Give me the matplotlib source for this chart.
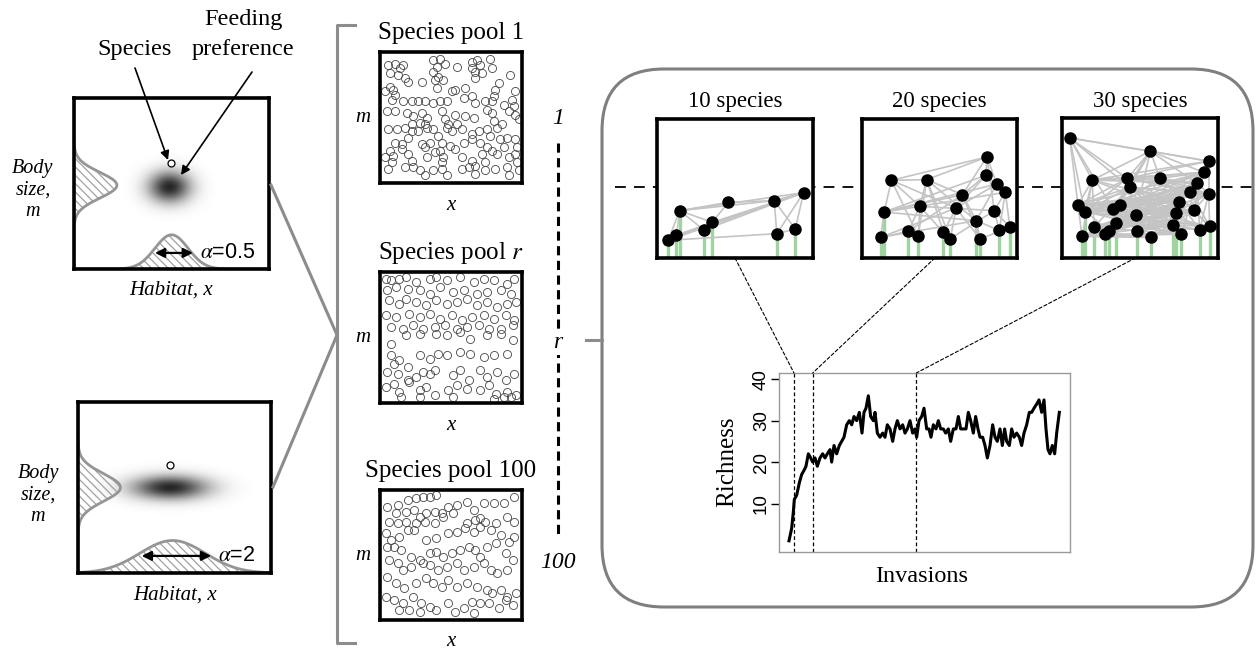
import numpy as np
import matplotlib.pyplot as plt
from matplotlib.patches import FancyBboxPatch, ConnectionPatch

plt.rcParams['font.family'] = ['Liberation Serif', 'DejaVu Serif']
plt.rcParams['mathtext.fontset'] = 'stix'
plt.rcParams['hatch.linewidth'] = 0.9

W, H = 1257, 651

# ---- niche panels (left column) ----
alpha_labels = ['0.5', '2']
blob_centre = [(0.49, 0.48), (0.477, 0.50)]
blob_sd = [(0.085, 0.072), (0.155, 0.055)]
species_dot = [(0.497, 0.62), (0.477, 0.63)]
body_mu = [0.49, 0.50]
body_sd = [0.075, 0.08]
body_peak = [0.22, 0.22]
habitat_mu = [0.50, 0.49]
habitat_sd = [0.085, 0.17]
habitat_peak = [0.20, 0.19]
alpha_arrow = [(0.415, 0.61), (0.33, 0.69)]
alpha_arrow_y = [0.094, 0.10]

# ---- species pools (read positions, in reading frame of each panel) ----
pool1_pts = [(40,50),(45,75),(60,45),(75,60),(85,50),(90,90),(70,80),(175,35),(185,55),(195,30),
             (210,45),(175,70),(180,95),(190,85),(205,95),(185,120),(245,55),(290,40),(305,35),(315,50),
             (300,70),(300,90),(290,60),(320,75),(345,30),(350,60),(405,80),(140,100),(100,100),
             (45,115),(55,125),(60,140),(50,155),(30,130),(240,125),(230,130),(270,120),(290,145),(265,150),
             (370,105),(360,125),(355,145),(350,160),(420,130),(410,155),(85,160),(110,160),(130,160),(150,160),
             (175,165),(195,160),(215,160),(300,165),(330,160),(385,170),(415,175),
             (35,190),(60,190),(95,195),(115,205),(140,195),(155,210),(150,230),(135,225),(110,230),(200,190),
             (210,215),(220,230),(240,200),(270,205),(295,210),(245,230),(335,185),(350,195),(355,220),(400,190),
             (420,200),(430,215),(380,230),(365,240),
             (40,245),(65,245),(90,240),(110,250),(130,250),(155,240),(175,245),(190,265),(215,240),(230,250),
             (260,245),(290,260),(310,250),(335,245),(345,265),(375,275),(395,270),(420,275),(60,285),(45,310),
             (80,290),(100,270),(140,290),(165,285),(200,285),(225,295),(265,285),(290,275),(315,285),(335,300),
             (350,310),(385,300),(425,300),
             (30,330),(55,325),(50,345),(80,305),(100,320),(110,340),(150,300),(155,330),(180,315),(195,310),
             (205,330),(200,345),(240,305),(260,330),(290,340),(300,355),(320,320),(330,345),(365,320),(400,330),
             (420,320),(425,345),(40,365),(90,360),(115,360),(135,370),(150,385),(175,370),(200,365),(215,385),
             (260,365),(280,360),(300,380),(330,370),(360,365),(395,360),(400,385),(430,370)]
poolr_pts = [(200,835),(215,840),(240,835),(260,830),(290,845),(330,835),(350,830),(380,840),(420,830),(460,845),
             (490,835),(520,840),(560,850),(580,835),(205,870),(230,860),(265,865),(300,870),(330,880),(360,860),
             (400,875),(430,870),(470,880),(500,875),(540,870),(570,880),(210,900),(240,910),(260,895),(290,905),
             (320,915),(350,900),(380,910),(410,905),(440,895),(470,915),(500,905),(530,920),(560,910),(585,905),
             (200,945),(230,950),(270,940),(300,950),(330,940),(360,955),(395,945),(425,960),(455,950),(490,945),
             (520,955),(555,945),(580,960),(215,980),(250,985),(280,975),(310,985),(345,980),(375,975),(410,985),
             (440,980),(475,975),(505,985),(540,985),(575,975),
             (215,1030),(260,1005),(300,1000),(350,1000),(380,1005),(420,995),(450,1015),(500,1005),(540,1000),
             (575,1020),(215,1065),(225,1090),(240,1080),(265,1100),(300,1065),(330,1075),(355,1060),(380,1065),
             (420,1055),(450,1060),(490,1070),(520,1065),(560,1060),(205,1115),(235,1120),(265,1140),(290,1130),
             (310,1115),(330,1120),(345,1110),(400,1125),(420,1110),(445,1140),(480,1110),(500,1130),(530,1115),
             (555,1140),(580,1120),(200,1160),(225,1150),(240,1175),(270,1145),(300,1170),(320,1160),(345,1185),
             (385,1170),(410,1155),(440,1165),(480,1170),(505,1155),(525,1180),(560,1175),(585,1185),(245,1190),
             (300,1190),(400,1190),(520,1195),(550,1190),(570,1190)]
pool100_pts = [(205,530),(235,525),(265,510),(290,505),(310,500),(330,500),(350,495),(230,550),(260,545),(285,540),
               (300,560),(320,550),(345,545),(365,550),(385,530),(410,525),(440,515),(460,540),(490,520),(520,520),
               (550,520),(580,500),(210,575),(235,580),(260,575),(290,580),(315,575),(345,580),(370,560),(400,550),
               (440,580),(465,570),(480,565),(495,575),(525,580),(560,560),(580,575),(200,610),(215,630),(240,620),
               (265,600),(285,600),(320,630),(350,625),(385,610),(410,605),(435,595),(460,605),(480,590),(510,600),
               (540,615),(565,635),(580,620),(205,650),(225,650),(245,660),(275,680),(300,690),(330,670),(350,665),
               (370,680),(395,670),(420,660),(445,650),(465,660),(480,680),(500,650),(525,640),(555,670),(575,690),
               (210,690),(235,700),(250,720),(275,710),(310,700),(330,705),(355,720),(380,710),(410,700),(430,720),
               (460,710),(490,700),(510,720),(530,730),(560,720),(205,740),(230,760),(255,775),(290,760),(320,745),
               (340,760),(365,770),(385,750),(410,770),(440,760),(470,770),(500,780),(515,790),(540,780),(560,800),
               (585,790),(200,800),(225,810),(250,820),(280,800),(305,820),(330,830),(350,840),(385,820),(405,845),
               (430,835),(455,815),(480,820),(505,820),(535,835),(555,810),(575,825),(300,845),(270,840),(460,850),
               (240,840)]
pool_titles = ['Species pool 1', 'Species pool $r$', 'Species pool 100']
pool_frames = [((15, 440), (408, 10)), ((183, 603), (1208, 815)), ((183, 603), (870, 480))]
pool_index_labels = ['1', 'r', '100']

# ---- food webs (node positions read in each panel's frame) ----
web_titles = ['10 species', '20 species', '30 species']
web10_nodes = [(120,378),(265,353),(402,348),(490,324),(217,413),(192,436),(110,452),(85,467),(410,447),(465,433)]
web10_edges = [(0,1),(0,2),(1,2),(2,3),(1,4),(0,4),(0,5),(0,6),(0,7),(6,4),(7,4),(4,3),(5,3),(6,3),(7,3),
               (2,8),(2,9),(3,8),(3,9),(7,8),(8,9),(0,3)]
web10_basal = [0, 4, 5, 6, 7, 8, 9]
web20_nodes = [(425,217),(140,287),(245,285),(422,272),(455,298),(480,323),(352,330),(118,382),(225,365),(333,370),
               (447,378),(393,408),(190,440),(220,455),(295,443),(316,462),(108,458),(405,463),(462,437),(494,428)]
web20_edges = [(2,1),(3,1),(2,3),(2,8),(2,9),(2,10),(3,9),(3,7),(3,12),(8,17),(8,9),(8,7),(8,4),(8,5),(9,13),
               (9,14),(9,15),(9,6),(1,4),(1,5),(1,7),(1,11),(4,5),(4,6),(4,7),(4,10),(5,6),(5,10),(5,12),(6,11),
               (6,19),(6,20),(7,10),(7,12),(7,18),(10,15),(10,16),(10,18),(11,19),(11,20),(12,18),(12,19),(17,13),
               (17,12),(17,10),(13,7),(14,3),(15,3),(16,11),(18,20),(19,20),(2,14),(3,16),(9,11),(8,12)]
web20_basal = [17, 8, 13, 14, 15, 16, 12, 18, 19, 20]
web30_nodes = [(75,158),(317,198),(492,228),(477,262),(143,285),(248,280),(346,280),(255,307),(457,295),(437,320),
               (492,326),(100,360),(120,380),(205,372),(225,360),(403,350),(273,390),(395,383),(448,375),(215,415),
               (148,428),(385,420),(495,425),(112,455),(180,448),(192,438),(277,440),(318,458),(410,448),(465,435)]
web30_links = {1: [2, 3, 5, 6, 8, 12, 13, 14], 2: [3, 4, 5, 6, 7, 8, 14, 15, 17, 9],
               3: [4, 5, 9, 6, 10, 11, 16], 4: [5, 6, 7, 9, 10, 12, 13, 14, 17, 19],
               5: [6, 12, 13, 21, 24, 16, 18, 9], 6: [7, 9, 10, 12, 13, 20, 22, 11],
               7: [9, 10, 11, 14, 15, 17, 19, 23], 8: [10, 11, 12, 13, 14, 16, 18, 21, 22],
               9: [11, 13, 14, 15, 17, 20, 24, 29, 30], 10: [11, 12, 13, 14, 17, 21, 27, 23],
               11: [12, 14, 15, 18, 19, 23, 30, 25], 12: [16, 19, 22, 24, 26], 13: [16, 18, 19, 22, 23, 29],
               14: [16, 19, 22, 28, 29], 15: [16, 18, 23, 25], 16: [20, 21, 24, 26, 27, 28, 30],
               17: [18, 19, 23, 29, 26], 18: [20, 21, 24, 25, 30], 19: [20, 21, 24, 27, 28, 23],
               20: [22, 29, 30], 21: [22, 29], 22: [24, 27, 30, 23], 24: [25, 29, 28], 25: [28, 29]}
web30_basal = [24, 13, 21, 25, 26, 20, 27, 28, 22, 18, 29, 30, 23]
web_frames = [((52, 518), (520, 103)), ((52, 515), (520, 103)), ((52, 520), (520, 98))]

# ---- richness through the invasion sequence ----
invasion = [0, 8, 13, 16, 23, 31, 38, 45, 51, 58, 65, 71, 78, 85, 93, 101, 108, 115, 123, 128,
            135, 143, 151, 158, 165, 173, 181, 188, 195, 203, 211, 219, 225, 231, 238, 245, 253, 258, 265, 273,
            281, 288, 295, 303, 311, 318, 325, 333, 341, 348, 355, 363, 371, 378, 383, 390, 398, 405, 413, 420,
            426, 433, 441, 448, 455, 463, 470, 478, 485, 493, 501, 508, 515, 523, 531, 538, 545, 553, 560, 567,
            573, 581, 588, 595, 603, 611, 618, 625, 633, 640, 647, 653, 661, 668, 675, 683, 691, 698, 705, 713,
            721, 728, 735, 743, 750, 758, 765, 771, 777, 783, 790, 797, 803, 811]
richness = [1, 4, 8, 11, 12, 15, 17, 18, 19, 22, 21, 20, 21, 19, 21, 22, 21, 22, 23, 20,
            24, 22, 24, 25, 26, 29, 30, 29, 31, 30, 32, 27, 32, 33, 36, 31, 30, 32, 27, 26,
            27, 26, 29, 28, 25, 28, 30, 28, 29, 27, 28, 30, 27, 28, 26, 30, 31, 33, 28, 28,
            26, 29, 28, 30, 28, 28, 27, 28, 25, 28, 28, 31, 28, 28, 28, 32, 30, 27, 31, 28,
            26, 26, 24, 21, 24, 29, 26, 25, 28, 24, 28, 25, 24, 28, 26, 27, 26, 24, 27, 29,
            32, 32, 33, 34, 35, 32, 35, 28, 23, 22, 24, 22, 27, 32]
richness_ticks = [10, 20, 30, 40]
snapshot_at = [15, 71, 382]
snapshot_anchor = [0.50, 0.47, 0.47]

fig = plt.figure(figsize=(W / 100, H / 100), dpi=100)


def px_axes(x0, y0, x1, y1):
    return fig.add_axes([x0 / W, 1 - y1 / H, (x1 - x0) / W, (y1 - y0) / H])


def frame(ax, lw=2.5):
    ax.set_xticks([])
    ax.set_yticks([])
    for s in ax.spines.values():
        s.set_linewidth(lw)
        s.set_color('black')


# background layer: rounded panel and the dashed level line
bg = px_axes(0, 0, W, H)
bg.set_xlim(0, W)
bg.set_ylim(H, 0)
bg.axis('off')
bg.add_patch(FancyBboxPatch((602, 69), 651, 538, boxstyle='round,pad=0,rounding_size=62',
                            facecolor='none', edgecolor='#7f7f7f', lw=2.2))
bg.plot([615, W], [187, 187], color='black', lw=1.3, dashes=(6, 4.5))

# niche panels
gray = '#959595'
niche_rects = [(74, 98, 269, 269), (78, 402, 271, 573)]
for k, r in enumerate(niche_rects):
    ax = px_axes(*r)
    ax.set_xlim(0, 1)
    ax.set_ylim(0, 1)
    frame(ax, 2.6)
    gx, gy = np.meshgrid(np.linspace(0, 1, 300), np.linspace(0, 1, 300))
    cx, cy = blob_centre[k]
    sx, sy = blob_sd[k]
    dens = np.exp(-((gx - cx) ** 2 / (2 * sx ** 2) + (gy - cy) ** 2 / (2 * sy ** 2)))
    img = np.zeros((300, 300, 4))
    img[..., :3] = 0.12
    img[..., 3] = 0.97 * dens ** 1.3
    ax.imshow(img, extent=[0, 1, 0, 1], origin='lower', aspect='auto', interpolation='bilinear')
    yy = np.linspace(0, 1, 300)
    xc = body_peak[k] * np.exp(-(yy - body_mu[k]) ** 2 / (2 * body_sd[k] ** 2))
    ax.fill_betweenx(yy, 0, xc, facecolor='none', edgecolor='#a0a0a0', hatch='\\\\\\\\', lw=0)
    ax.plot(xc, yy, color=gray, lw=2)
    xx = np.linspace(0, 1, 300)
    yc = habitat_peak[k] * np.exp(-(xx - habitat_mu[k]) ** 2 / (2 * habitat_sd[k] ** 2))
    ax.fill_between(xx, 0, yc, facecolor='none', edgecolor='#a0a0a0', hatch='\\\\\\\\', lw=0)
    ax.plot(xx, yc, color=gray, lw=2)
    a0, a1 = alpha_arrow[k]
    ax.annotate('', xy=(a1, alpha_arrow_y[k]), xytext=(a0, alpha_arrow_y[k]),
                arrowprops=dict(arrowstyle='<|-|>', color='black', lw=1.6, mutation_scale=14,
                                shrinkA=0, shrinkB=0))
    ax.text(a1 + 0.035, alpha_arrow_y[k] + 0.005, r'$\alpha$=' + alpha_labels[k], family='Liberation Sans',
            fontsize=15.5, va='center', ha='left')
    ax.plot(*species_dot[k], 'o', mfc='white', mec='black', ms=5, mew=0.9)

# species pools
pool_rects = [(380, 52, 522, 183), (380, 272, 522, 403), (380, 490, 522, 620)]
for k, (pts, r) in enumerate(zip([pool1_pts, poolr_pts, pool100_pts], pool_rects)):
    ax = px_axes(*r)
    frame(ax, 2.6)
    px, py = zip(*pts)
    ax.plot(px, py, 'o', mfc='none', mec='#444444', ms=5.8, mew=0.6)
    ax.set_xlim(*pool_frames[k][0])
    ax.set_ylim(*pool_frames[k][1])

# food webs
web_rects = [(657, 119, 813, 258), (862, 119, 1017, 258), (1062, 118, 1218, 258)]
web30_edges = [(a, b) for a, nb in web30_links.items() for b in nb]
webs = [(web10_nodes, web10_edges, web10_basal, 0),
        (web20_nodes, web20_edges, web20_basal, 1),
        (web30_nodes, web30_edges, web30_basal, 1)]
web_axes = []
for k, (nodes, edges, basal, base) in enumerate(webs):
    ax = px_axes(*web_rects[k])
    ax.set_facecolor('white')
    frame(ax, 2.6)
    (x0, x1), (y0, y1) = web_frames[k]
    for i in basal:
        nx, ny = nodes[i - base]
        ax.plot([nx, nx], [ny, y0], color='#9fd39f', lw=2.4, solid_capstyle='butt')
    for a, b in edges:
        (ax_, ay_), (bx_, by_) = nodes[a - base], nodes[b - base]
        ax.plot([ax_, bx_], [ay_, by_], color='#c4c4c4', lw=1.2)
    nx, ny = zip(*nodes)
    ax.plot(nx, ny, 'o', color='black', ms=8, zorder=5)
    ax.set_xlim(x0, x1)
    ax.set_ylim(y0, y1)
    web_axes.append(ax)

# richness plot
rich = px_axes(779, 373, 1070, 552)
rich.plot(invasion, richness, color='black', lw=2.2)
rich.set_xlim(-30, 843)
rich.set_ylim(-1.7, 41.5)
rich.set_xticks([])
rich.set_yticks(richness_ticks)
rich.tick_params(axis='y', labelsize=13.5, length=6, width=1, labelrotation=90, pad=0.5)
for lab in rich.get_yticklabels():
    lab.set_family('Liberation Sans')
    lab.set_va('center')
for s in rich.spines.values():
    s.set_color('#9a9a9a')
    s.set_linewidth(1)
rich.vlines(snapshot_at, -1.7, 41.5, colors='black', linestyles=(0, (3, 2)), lw=0.9)

for k, xv in enumerate(snapshot_at):
    con = ConnectionPatch(xyA=(snapshot_anchor[k], 0), coordsA=web_axes[k].transAxes,
                          xyB=(xv, 1), coordsB=rich.get_xaxis_transform(),
                          color='black', lw=0.8, ls=(0, (3, 2)))
    fig.add_artist(con)

# foreground layer: texts, arrows, brackets
fg = px_axes(0, 0, W, H)
fg.set_xlim(0, W)
fg.set_ylim(H, 0)
fg.axis('off')
fg.patch.set_visible(False)

fg.text(135, 50, 'Species', ha='center', va='center', fontsize=17.5)
fg.text(243, 20, 'Feeding', ha='center', va='center', fontsize=17.5)
fg.text(243, 50, 'preference', ha='center', va='center', fontsize=17.5)
fg.annotate('', xy=(168, 160), xytext=(135, 68),
            arrowprops=dict(arrowstyle='-|>', color='black', lw=1.2, mutation_scale=13, shrinkA=0, shrinkB=0))
fg.annotate('', xy=(181, 175), xytext=(252, 72),
            arrowprops=dict(arrowstyle='-|>', color='black', lw=1.2, mutation_scale=13, shrinkA=0, shrinkB=0))

for cx, cy in [(33, 190), (38, 495)]:
    fg.text(cx, cy, 'Body\nsize,\nm', ha='center', va='center', fontsize=14.5, style='italic', linespacing=1.2)
for cx, cy in [(171, 290), (175, 595)]:
    fg.text(cx, cy, 'Habitat, x', ha='center', va='center', fontsize=15, style='italic')

fg.plot([271, 337], [185, 335], color='#8c8c8c', lw=2.2)
fg.plot([273, 337], [487, 335], color='#8c8c8c', lw=2.2)
fg.plot([355, 337, 337, 355], [25, 25, 643, 643], color='#8c8c8c', lw=2.2)
fg.plot([586, 602], [340, 340], color='#8c8c8c', lw=2.2)

for k, r in enumerate(pool_rects):
    x0, y0, x1, y1 = r
    fg.text((x0 + x1) / 2, y0 - 19, pool_titles[k], ha='center', va='center', fontsize=18)
    fg.text(363, (y0 + y1) / 2, 'm', ha='center', va='center', fontsize=15, style='italic')
    fg.text((x0 + x1) / 2, y1 + 22, 'x', ha='center', va='center', fontsize=15, style='italic')

fg.plot([558, 558], [143, 538], color='black', lw=2.2, dashes=(3, 1.8))
for lab, yv in zip(pool_index_labels, [118, 343, 563]):
    fg.text(558, yv, lab, ha='center', va='center', fontsize=17, style='italic',
            bbox=dict(facecolor='white', edgecolor='none', pad=1))

for k, r in enumerate(web_rects):
    fg.text((r[0] + r[2]) / 2, 101, web_titles[k], ha='center', va='center', fontsize=16.5)

fg.text(727, 462, 'Richness', rotation=90, ha='center', va='center', fontsize=18)
fg.text(922, 576, 'Invasions', ha='center', va='center', fontsize=17.5)

fig.savefig('out.png', dpi=100)
